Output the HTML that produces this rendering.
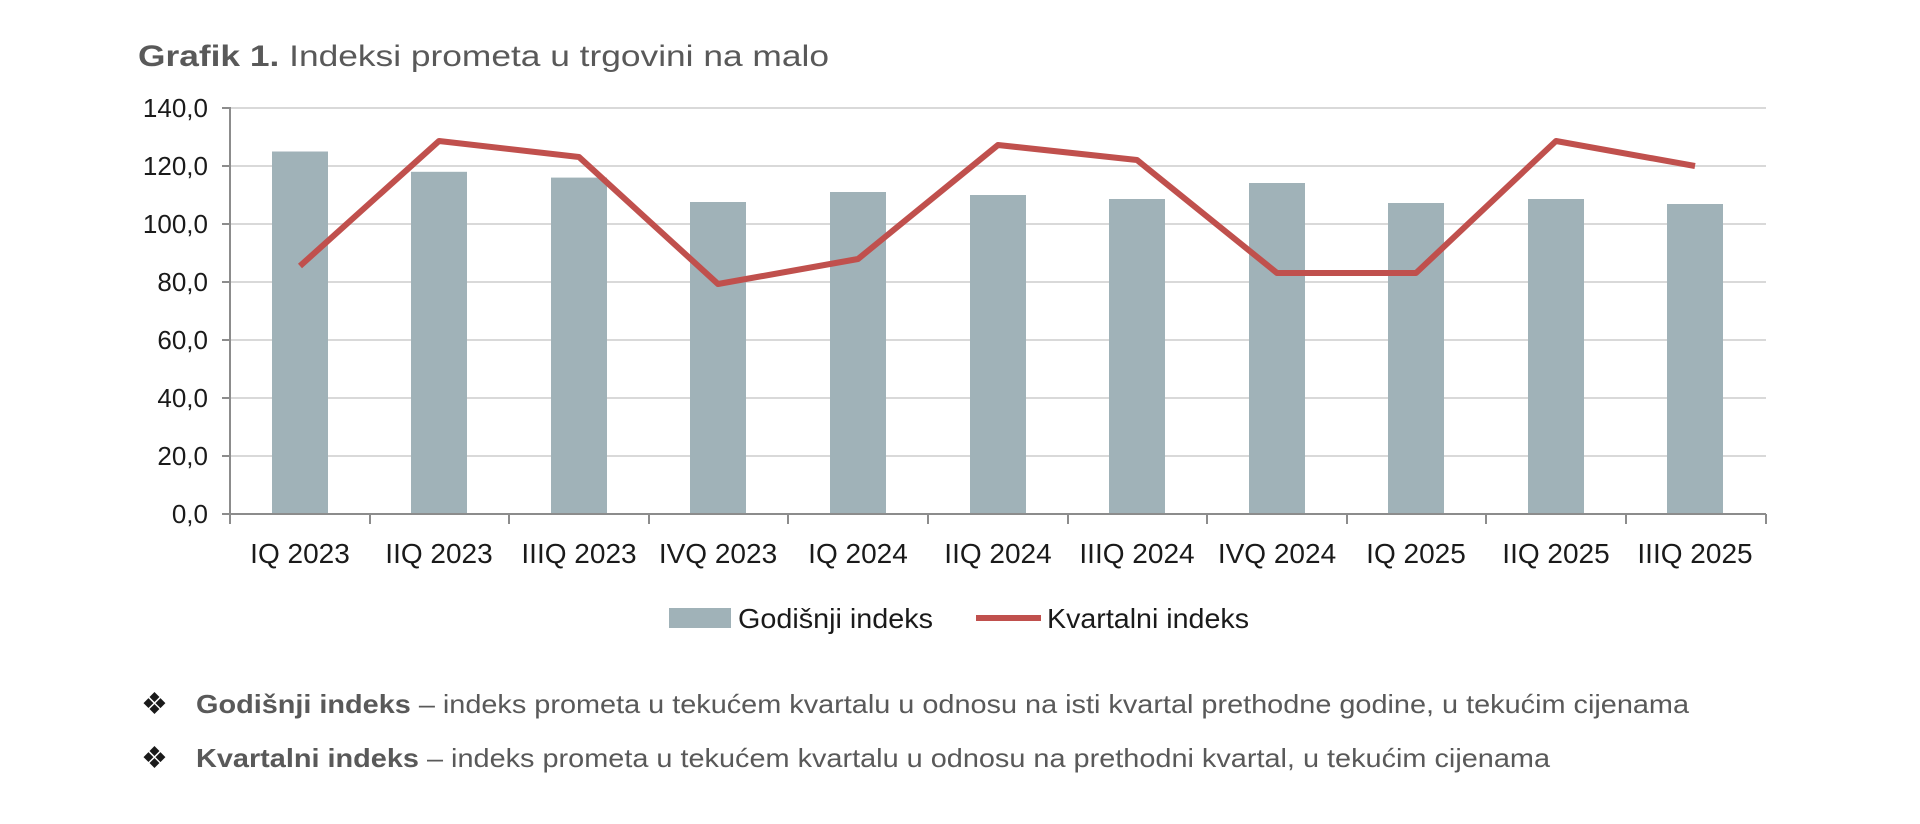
<!DOCTYPE html>
<html><head><meta charset="utf-8"><style>html,body{margin:0;padding:0;background:#fff}svg{display:block}</style></head>
<body>
<svg width="1920" height="824" xmlns="http://www.w3.org/2000/svg" font-family="Liberation Sans, Arial, sans-serif">
<text x="138" y="66" font-size="30" fill="#595959" textLength="691" lengthAdjust="spacingAndGlyphs"><tspan font-weight="bold">Grafik 1.</tspan> Indeksi prometa u trgovini na malo</text>
<g stroke="#d9d9d9" stroke-width="2">
<line x1="230" x2="1766" y1="108" y2="108"/><line x1="230" x2="1766" y1="166" y2="166"/><line x1="230" x2="1766" y1="224" y2="224"/><line x1="230" x2="1766" y1="282" y2="282"/><line x1="230" x2="1766" y1="340" y2="340"/><line x1="230" x2="1766" y1="398" y2="398"/><line x1="230" x2="1766" y1="456" y2="456"/>
</g>
<g font-size="26" fill="#1a1a1a" text-anchor="end">
<text x="208" y="117">140,0</text><text x="208" y="175">120,0</text><text x="208" y="233">100,0</text><text x="208" y="291">80,0</text><text x="208" y="349">60,0</text><text x="208" y="407">40,0</text><text x="208" y="465">20,0</text><text x="208" y="523">0,0</text>
</g>
<g fill="#a0b2b8">
<rect x="272" y="151.5" width="56" height="362.5"/>
<rect x="411" y="171.8" width="56" height="342.2"/>
<rect x="551" y="177.6" width="56" height="336.4"/>
<rect x="690" y="202" width="56" height="312"/>
<rect x="830" y="192" width="56" height="322"/>
<rect x="970" y="195" width="56" height="319"/>
<rect x="1109" y="199" width="56" height="315"/>
<rect x="1249" y="183" width="56" height="331"/>
<rect x="1388" y="203" width="56" height="311"/>
<rect x="1528" y="199" width="56" height="315"/>
<rect x="1667" y="204" width="56" height="310"/>
</g>
<g stroke="#8c8c8c" stroke-width="2">
<line x1="230" y1="107" x2="230" y2="514"/>
<line x1="222" y1="108" x2="230" y2="108"/><line x1="222" y1="166" x2="230" y2="166"/><line x1="222" y1="224" x2="230" y2="224"/><line x1="222" y1="282" x2="230" y2="282"/><line x1="222" y1="340" x2="230" y2="340"/><line x1="222" y1="398" x2="230" y2="398"/><line x1="222" y1="456" x2="230" y2="456"/><line x1="222" y1="514" x2="230" y2="514"/>
<line x1="222" y1="514" x2="1766" y2="514"/>
<line x1="230" y1="514" x2="230" y2="524"/><line x1="370" y1="514" x2="370" y2="524"/><line x1="509" y1="514" x2="509" y2="524"/><line x1="649" y1="514" x2="649" y2="524"/><line x1="788" y1="514" x2="788" y2="524"/><line x1="928" y1="514" x2="928" y2="524"/><line x1="1068" y1="514" x2="1068" y2="524"/><line x1="1207" y1="514" x2="1207" y2="524"/><line x1="1347" y1="514" x2="1347" y2="524"/><line x1="1486" y1="514" x2="1486" y2="524"/><line x1="1626" y1="514" x2="1626" y2="524"/><line x1="1766" y1="514" x2="1766" y2="524"/>
</g>
<polyline fill="none" stroke="#c0504d" stroke-width="6" stroke-linejoin="round" points="300,266 439,141 579,157 718,284 858,259 998,145 1137,160 1277,273 1416,273 1556,141 1695,166"/>
<g font-size="28" fill="#1a1a1a" text-anchor="middle">
<text x="300" y="563">IQ 2023</text><text x="439" y="563">IIQ 2023</text><text x="579" y="563">IIIQ 2023</text><text x="718" y="563">IVQ 2023</text><text x="858" y="563">IQ 2024</text><text x="998" y="563">IIQ 2024</text><text x="1137" y="563">IIIQ 2024</text><text x="1277" y="563">IVQ 2024</text><text x="1416" y="563">IQ 2025</text><text x="1556" y="563">IIQ 2025</text><text x="1695" y="563">IIIQ 2025</text>
</g>
<rect x="669" y="608" width="62" height="20" fill="#a0b2b8"/>
<text x="738" y="628" font-size="28" fill="#1a1a1a" textLength="195" lengthAdjust="spacingAndGlyphs">Godišnji indeks</text>
<line x1="976" y1="618" x2="1041" y2="618" stroke="#c0504d" stroke-width="6"/>
<text x="1047" y="628" font-size="28" fill="#1a1a1a" textLength="202" lengthAdjust="spacingAndGlyphs">Kvartalni indeks</text>
<g font-size="26" fill="#595959">
<text x="141" y="714" font-size="30" fill="#1a1a1a">❖</text>
<text x="196" y="713" textLength="1493" lengthAdjust="spacingAndGlyphs"><tspan font-weight="bold">Godišnji indeks</tspan> – indeks prometa u tekućem kvartalu u odnosu na isti kvartal prethodne godine, u tekućim cijenama</text>
<text x="141" y="768" font-size="30" fill="#1a1a1a">❖</text>
<text x="196" y="767" textLength="1354" lengthAdjust="spacingAndGlyphs"><tspan font-weight="bold">Kvartalni indeks</tspan> – indeks prometa u tekućem kvartalu u odnosu na prethodni kvartal, u tekućim cijenama</text>
</g>
</svg>
</body></html>
